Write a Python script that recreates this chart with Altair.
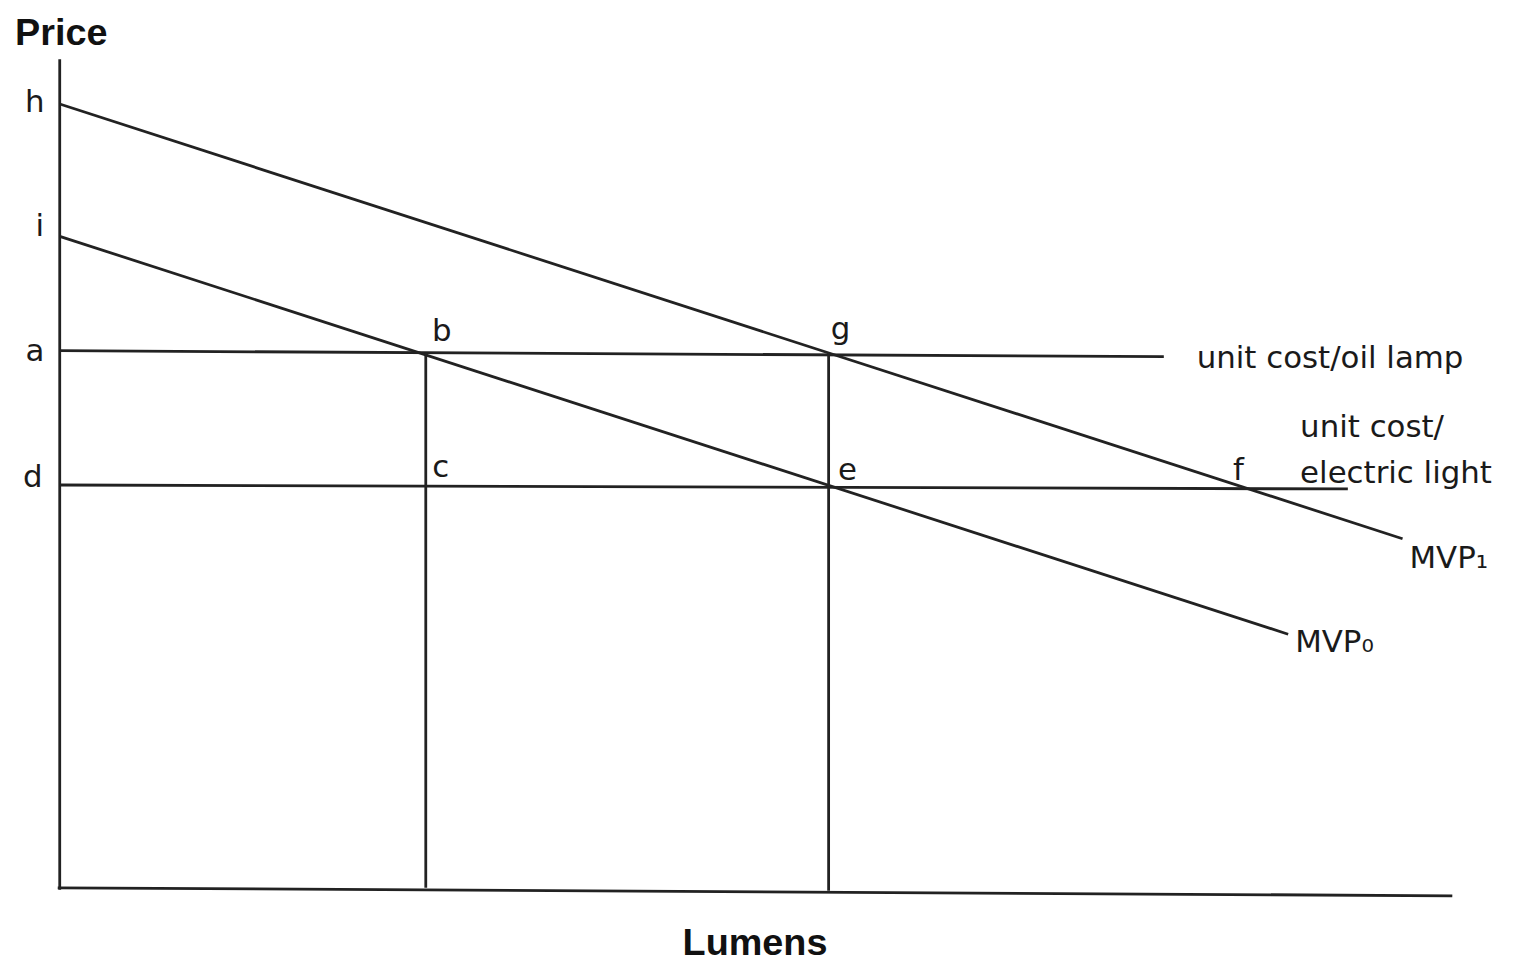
import altair as alt
import pandas as pd

# ---- data (units: lumens on x, price on y) ----
seg_name = ["y axis", "x axis", "MVP1", "MVP0", "oil lamp cost", "electric cost", "drop b", "drop g"]
seg_x0 = [0.0, -0.2, 0.0, 0.0, 0.0, 0.0, 36.8, 77.3]
seg_y0 = [83.5, 0.2, 79.0, 65.7, 54.2, 40.7, 54.0, 54.0]
seg_x1 = [0.0, 140.0, 135.0, 123.5, 111.0, 129.5, 36.8, 77.3]
seg_y1 = [0.0, -0.6, 35.3, 25.7, 53.6, 40.3, 0.2, -0.1]

axis_letters = ["h", "i", "a", "d"]
axis_letter_x = [-2.5, -2.0, -2.5, -2.7]
axis_letter_y = [78.2, 65.7, 53.2, 40.5]

point_letters = ["b", "g", "c", "e", "f"]
point_letter_x = [38.4, 78.5, 38.3, 79.2, 118.5]
point_letter_y = [55.2, 55.4, 41.5, 41.2, 41.2]

curve_labels = ["unit cost/oil lamp", "unit cost/", "electric light", "MVP\u2081", "MVP\u2080"]
curve_label_x = [114.3, 124.7, 124.7, 135.7, 124.2]
curve_label_y = [52.5, 45.5, 40.9, 32.4, 23.9]

titles = ["Price", "Lumens"]
title_x = [0.15, 69.9]
title_y = [84.9, -6.6]

X_DOMAIN = [-5.2, 145.4]
Y_DOMAIN = [-7.0, 88.4]

xs = alt.Scale(domain=X_DOMAIN, nice=False, zero=False)
ys = alt.Scale(domain=Y_DOMAIN, nice=False, zero=False)

segs = pd.DataFrame({"name": seg_name, "x0": seg_x0, "y0": seg_y0, "x1": seg_x1, "y1": seg_y1})
letters_a = pd.DataFrame({"t": axis_letters, "x": axis_letter_x, "y": axis_letter_y})
letters_p = pd.DataFrame({"t": point_letters, "x": point_letter_x, "y": point_letter_y})
labels = pd.DataFrame({"t": curve_labels, "x": curve_label_x, "y": curve_label_y})
tdf = pd.DataFrame({"t": titles, "x": title_x, "y": title_y})

lines = alt.Chart(segs).mark_rule(color="#222222", strokeWidth=2.8).encode(
    x=alt.X("x0:Q", scale=xs, axis=None),
    y=alt.Y("y0:Q", scale=ys, axis=None),
    x2="x1:Q",
    y2="y1:Q",
)

t_axis = alt.Chart(letters_a).mark_text(
    font="DejaVu Sans", fontSize=31, align="center", baseline="alphabetic", color="#1a1a1a"
).encode(x=alt.X("x:Q", scale=xs, axis=None), y=alt.Y("y:Q", scale=ys, axis=None), text="t:N")

t_point = alt.Chart(letters_p).mark_text(
    font="DejaVu Sans", fontSize=31, align="center", baseline="alphabetic", color="#1a1a1a"
).encode(x=alt.X("x:Q", scale=xs, axis=None), y=alt.Y("y:Q", scale=ys, axis=None), text="t:N")

t_labels = alt.Chart(labels).mark_text(
    font="DejaVu Sans", fontSize=31, align="left", baseline="alphabetic", color="#1a1a1a"
).encode(x=alt.X("x:Q", scale=xs, axis=None), y=alt.Y("y:Q", scale=ys, axis=None), text="t:N")

t_titles = alt.Chart(tdf).mark_text(
    font="Liberation Sans", fontSize=38, fontWeight="bold", align="center", baseline="alphabetic", color="#111111"
).encode(x=alt.X("x:Q", scale=xs, axis=None), y=alt.Y("y:Q", scale=ys, axis=None), text="t:N")

chart = alt.layer(lines, t_axis, t_point, t_labels, t_titles).properties(
    width=1506, height=954,
    autosize=alt.AutoSizeParams(type="none"),
    padding=0,
    background="white",
).configure_view(stroke=None)

chart.save("out.html", embed_options={"renderer": "svg", "actions": False})
